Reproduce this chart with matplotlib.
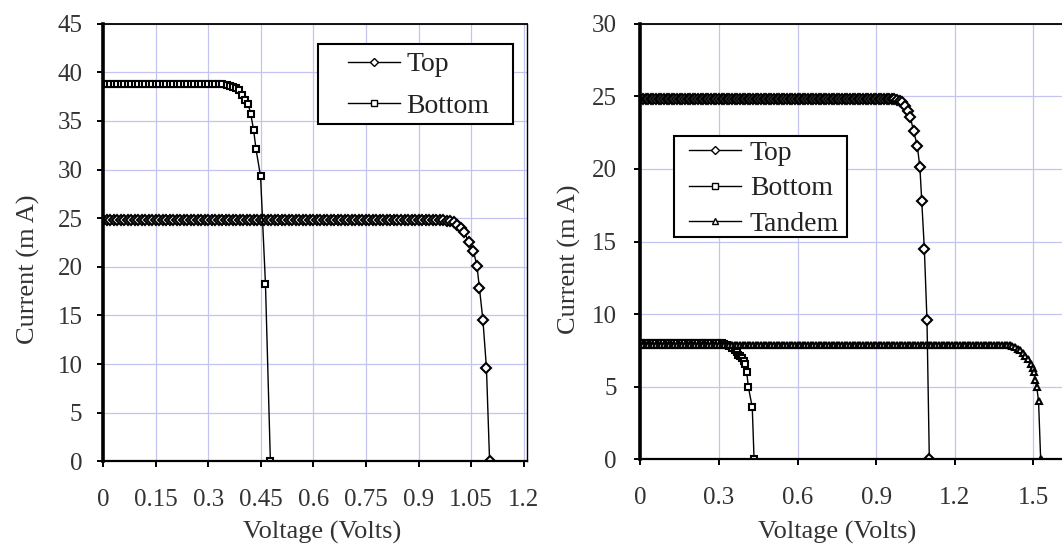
import matplotlib
matplotlib.use('Agg')
import matplotlib.pyplot as plt
from matplotlib.patches import Rectangle

plt.rcParams['font.family'] = ['Liberation Serif', 'DejaVu Serif']

grid_v = [
    0.00, 0.01, 0.02, 0.03, 0.04, 0.05, 0.06, 0.07, 0.08, 0.09,
    0.10, 0.11, 0.12, 0.13, 0.14, 0.15, 0.16, 0.17, 0.18, 0.19,
    0.20, 0.21, 0.22, 0.23, 0.24, 0.25, 0.26, 0.27, 0.28, 0.29,
    0.30, 0.31, 0.32, 0.33, 0.34, 0.35, 0.36, 0.37, 0.38, 0.39,
    0.40, 0.41, 0.42, 0.43, 0.44, 0.45, 0.46, 0.47, 0.48, 0.49,
    0.50, 0.51, 0.52, 0.53, 0.54, 0.55, 0.56, 0.57, 0.58, 0.59,
    0.60, 0.61, 0.62, 0.63, 0.64, 0.65, 0.66, 0.67, 0.68, 0.69,
    0.70, 0.71, 0.72, 0.73, 0.74, 0.75, 0.76, 0.77, 0.78, 0.79,
    0.80, 0.81, 0.82, 0.83, 0.84, 0.85, 0.86, 0.87, 0.88, 0.89,
    0.90, 0.91, 0.92, 0.93, 0.94, 0.95, 0.96, 0.97, 0.98, 0.99,
    1.00, 1.01, 1.02, 1.03, 1.04, 1.05, 1.06, 1.07, 1.08, 1.09,
    1.10, 1.11, 1.12, 1.13, 1.14, 1.15, 1.16, 1.17, 1.18, 1.19,
    1.20, 1.21, 1.22, 1.23, 1.24, 1.25, 1.26, 1.27, 1.28, 1.29,
    1.30, 1.31, 1.32, 1.33, 1.34, 1.35, 1.36, 1.37, 1.38, 1.39,
]

# top cell (same in both panels)
top_v = grid_v[:98] + [0.98, 0.99, 1.00, 1.01, 1.02, 1.03, 1.043,
                       1.057, 1.067, 1.074, 1.084, 1.094, 1.103]
top_i = [24.8] * 98 + [24.75, 24.7, 24.6, 24.3, 24.0, 23.6, 22.6,
                       21.6, 20.1, 17.8, 14.5, 9.6, 0.0]

# bottom cell, left panel
bot1_v = grid_v[:35] + [0.352, 0.362, 0.371, 0.379, 0.386, 0.395, 0.405,
                        0.414, 0.421, 0.429, 0.436, 0.449, 0.463, 0.477]
bot1_i = [38.8] * 35 + [38.7, 38.6, 38.5, 38.35, 38.2, 37.7, 37.2,
                        36.7, 35.7, 34.1, 32.1, 29.3, 18.2, 0.0]

# bottom cell, right panel
bot2_v = grid_v[:37] + [0.367, 0.374, 0.381, 0.387, 0.394, 0.400,
                        0.406, 0.412, 0.427, 0.434]
bot2_i = [8.0] * 32 + [7.95, 7.9, 7.8, 7.7, 7.55] + [7.4, 7.2, 7.1, 6.95, 6.8,
                                                     6.6, 6.0, 5.0, 3.6, 0.0]

# tandem
tan_v = grid_v[:140] + [1.40, 1.41, 1.42, 1.43, 1.44, 1.45, 1.46, 1.47,
                        1.48, 1.49, 1.497, 1.503, 1.508, 1.513, 1.52, 1.528]
tan_i = [7.9] * 140 + [7.88, 7.85, 7.8, 7.72, 7.62, 7.5, 7.35, 7.15,
                       6.9, 6.6, 6.3, 6.0, 5.5, 5.0, 4.0, 0.0]

left_xticks = [0, 0.15, 0.3, 0.45, 0.6, 0.75, 0.9, 1.05, 1.2]
left_xlabels = ['0', '0.15', '0.3', '0.45', '0.6', '0.75', '0.9', '1.05', '1.2']
left_yticks = [0, 5, 10, 15, 20, 25, 30, 35, 40, 45]
right_xticks = [0, 0.3, 0.6, 0.9, 1.2, 1.5]
right_xlabels = ['0', '0.3', '0.6', '0.9', '1.2', '1.5']
right_yticks = [0, 5, 10, 15, 20, 25, 30]

FS = 18      # tick labels
LFS = 19     # axis labels
GFS = 20     # legend
TXT = '#333333'


def style_axes(ax, xticks, xlabels, yticks, ypad):
    ax.set_xticks(xticks)
    ax.set_xticklabels(xlabels)
    ax.set_yticks(yticks)
    ax.grid(True, color='#c4c4f0', lw=0.9)
    ax.set_axisbelow(True)
    ax.spines['left'].set_linewidth(2.6)
    ax.spines['bottom'].set_linewidth(1.6)
    ax.spines['top'].set_linewidth(1.3)
    ax.spines['right'].set_linewidth(1.0)
    ax.tick_params(direction='out', length=4, width=1.4,
                   labelsize=FS, labelcolor=TXT)
    ax.tick_params(axis='x', pad=16)
    ax.tick_params(axis='y', pad=ypad)


def curve(ax, v, i, marker, ms, label):
    return ax.plot(v, i, color='black', lw=1.0, marker=marker, ms=ms,
                   mfc='white', mec='black', mew=1.5, label=label)[0]


def legend_box(fig, ax, handles, x0, y0, w, h, hx, hy, spacing, tpad):
    ax.add_patch(Rectangle((x0, y0), w, h, transform=fig.transFigure,
                           facecolor='white', edgecolor='black', lw=1.5,
                           zorder=4))
    leg = ax.legend(handles=handles, loc='upper left', bbox_to_anchor=(hx, hy),
                    bbox_transform=fig.transFigure, frameon=False,
                    fontsize=GFS, borderpad=0, borderaxespad=0,
                    handlelength=1.87, handletextpad=tpad,
                    labelspacing=spacing)
    for t in leg.get_texts():
        t.set_color('#222222')
    for ln in leg.get_lines():
        ln.set_markersize(4.5)
        ln.set_markeredgewidth(1.0)


fig = plt.figure(figsize=(10.62, 5.46), dpi=100)

# left panel
ax1 = fig.add_axes([0.0973, 0.155, 0.399, 0.8016])
h_top = curve(ax1, top_v, top_i, 'D', 5.4, 'Top')
h_bot = curve(ax1, bot1_v, bot1_i, 's', 5.0, 'Bottom')
ax1.set_xlim(0, 1.21)
ax1.set_ylim(0, 45)
style_axes(ax1, left_xticks, left_xlabels, left_yticks, 11)
ax1.set_xlabel('Voltage (Volts)', fontsize=LFS, color=TXT)
ax1.xaxis.set_label_coords(0.516, -0.137)
ax1.set_ylabel('Current (m A)', fontsize=LFS, color=TXT)
ax1.yaxis.set_label_coords(-0.15, 0.44)
legend_box(fig, ax1, [h_top, h_bot], 0.299, 0.7725, 0.1843, 0.1478,
           0.3277, 0.905, 0.58, 0.22)

# right panel, runs past the right edge of the picture
ax2 = fig.add_axes([0.603, 0.1586, 0.444, 0.798])
h_top2 = curve(ax2, top_v, top_i, 'D', 5.4, 'Top')
h_bot2 = curve(ax2, bot2_v, bot2_i, 's', 5.0, 'Bottom')
h_tan = curve(ax2, tan_v, tan_i, '^', 5.0, 'Tandem')
ax2.set_xlim(0, 1.8)
ax2.set_ylim(0, 30)
style_axes(ax2, right_xticks, right_xlabels, right_yticks, 13)
ax2.spines['right'].set_visible(False)
ax2.set_xlabel('Voltage (Volts)', fontsize=LFS, color=TXT)
ax2.xaxis.set_label_coords(0.417, -0.142)
ax2.set_ylabel('Current (m A)', fontsize=LFS, color=TXT)
ax2.yaxis.set_label_coords(-0.125, 0.46)
legend_box(fig, ax2, [h_top2, h_bot2, h_tan], 0.6342, 0.5663, 0.1636, 0.185,
           0.6492, 0.7427, 0.36, 0.3)

fig.savefig('out.png', dpi=100)
